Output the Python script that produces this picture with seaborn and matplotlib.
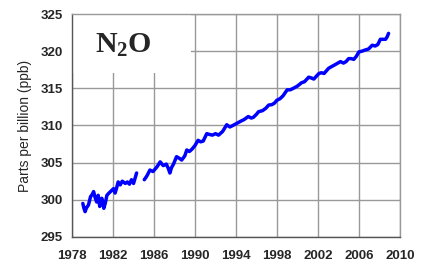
import numpy as np
import pandas as pd
import matplotlib
matplotlib.use('Agg')
import matplotlib.pyplot as plt
import seaborn as sns

# N2O record (decimal year, ppb); two segments with a gap in 1984
years_a = [1979.05, 1979.15, 1979.27, 1979.4, 1979.6, 1979.8, 1980.0, 1980.1, 1980.25,
           1980.4, 1980.55, 1980.7, 1980.9, 1981.0, 1981.1, 1981.25, 1981.4, 1981.6,
           1981.9, 1982.05, 1982.2, 1982.35, 1982.5, 1982.7, 1982.9, 1983.2, 1983.4,
           1983.6, 1983.8, 1984.0, 1984.15, 1984.3]
ppb_a = [299.5, 298.9, 298.4, 298.9, 299.3, 300.4, 300.8, 301.1, 300.3,
         299.7, 300.6, 299.1, 300.2, 299.6, 298.85, 299.6, 300.6, 300.9,
         301.3, 301.5, 300.9, 301.6, 302.4, 302.0, 302.5, 302.2, 302.4,
         302.1, 302.7, 302.2, 302.9, 303.6]

years_b = [1985.05, 1985.3, 1985.6, 1985.9, 1986.3, 1986.6, 1986.9, 1987.2, 1987.4,
           1987.55, 1987.7, 1987.9, 1988.2, 1988.45, 1988.7, 1989.0, 1989.2, 1989.45,
           1989.7, 1990.0, 1990.3, 1990.55, 1990.8, 1991.15, 1991.4, 1991.7, 1992.0,
           1992.3, 1992.7, 1993.1, 1993.4, 1993.7, 1994.1, 1994.5, 1994.8, 1995.2,
           1995.5, 1995.7, 1996.0, 1996.2, 1996.6, 1996.9, 1997.2, 1997.5, 1997.75,
           1998.0, 1998.3, 1998.6, 1999.0, 1999.3, 1999.6, 2000.0, 2000.4, 2000.7,
           2001.1, 2001.35, 2001.6, 2002.1, 2002.35, 2002.6, 2003.05, 2003.3, 2003.7,
           2004.2, 2004.5, 2004.75, 2005.0, 2005.25, 2005.5, 2005.75, 2006.0, 2006.3,
           2006.6, 2006.95, 2007.3, 2007.6, 2007.85, 2008.1, 2008.35, 2008.6, 2008.75,
           2008.9]
ppb_b = [302.7, 303.2, 304.0, 303.8, 304.45, 305.1, 304.6, 304.8, 304.2,
         303.6, 304.3, 304.8, 305.8, 305.6, 305.35, 305.9, 306.7, 306.5,
         306.8, 307.3, 308.0, 307.8, 307.9, 308.9, 308.8, 308.7, 308.9,
         308.7, 309.2, 310.1, 309.8, 310.0, 310.3, 310.6, 310.8, 311.2,
         311.0, 311.1, 311.5, 311.85, 312.0, 312.3, 312.75, 312.8, 313.0,
         313.4, 313.6, 314.0, 314.8, 314.8, 315.0, 315.3, 315.75, 315.9,
         316.5, 316.4, 316.25, 317.0, 317.1, 317.0, 317.7, 317.9, 318.2,
         318.6, 318.4, 318.6, 319.0, 319.0, 318.9, 319.3, 319.9, 320.0,
         320.15, 320.3, 320.8, 320.7, 320.9, 321.6, 321.6, 321.6, 321.9,
         322.4]

df = pd.concat([
    pd.DataFrame({'year': years_a, 'ppb': ppb_a, 'segment': 'a'}),
    pd.DataFrame({'year': years_b, 'ppb': ppb_b, 'segment': 'b'}),
])

sns.set_style('white')
plt.rcParams['font.family'] = ['Liberation Sans', 'DejaVu Sans']
plt.rcParams['mathtext.fontset'] = 'custom'
plt.rcParams['mathtext.bf'] = 'Liberation Serif:bold'
plt.rcParams['mathtext.rm'] = 'Liberation Serif:bold'

fig = plt.figure(figsize=(4.24, 2.65), dpi=100)
ax = fig.add_axes([0.17, 0.106, 0.773, 0.841])

sns.lineplot(data=df, x='year', y='ppb', units='segment', estimator=None,
             color='#0000ff', lw=2.5, ax=ax)

ax.set_xlim(1978, 2010)
ax.set_ylim(295, 325)
ax.set_xticks(np.arange(1978, 2011, 4))
ax.set_yticks(np.arange(295, 326, 5))
ax.set_xticks(np.arange(1978, 2011, 1), minor=True)
ax.set_yticks(np.arange(295, 326, 1), minor=True)
ax.tick_params(axis='both', which='major', labelsize=9.5, direction='inout',
               length=5, width=0.8, color='#555555')
ax.tick_params(axis='x', which='major', pad=7)
ax.tick_params(axis='y', which='major', pad=4)
ax.tick_params(axis='both', which='minor', direction='in', length=3,
               width=0.6, color='#555555')
for lab in ax.get_xticklabels() + ax.get_yticklabels():
    lab.set_fontweight('bold')

ax.set_xlabel('')
ax.set_ylabel('Parts per billion (ppb)', fontsize=10, labelpad=6)

ax.grid(True, which='major', color='#999999', lw=1.0)
ax.set_axisbelow(True)
for side in ['top', 'right']:
    ax.spines[side].set_color('#999999')
    ax.spines[side].set_linewidth(1.0)
for side in ['left', 'bottom']:
    ax.spines[side].set_color('#555555')
    ax.spines[side].set_linewidth(1.0)

# white label box covering the grid in the top left corner
ax.axvspan(1978.05, 1989.6, ymin=(317 - 295) / 30, ymax=0.995, color='white', zorder=1.5, lw=0)
ax.text(1980.2, 320.9, r'$\mathbf{N_2O}$', fontsize=21.5, ha='left', va='center', zorder=3)

fig.savefig('out.png', dpi=100)
